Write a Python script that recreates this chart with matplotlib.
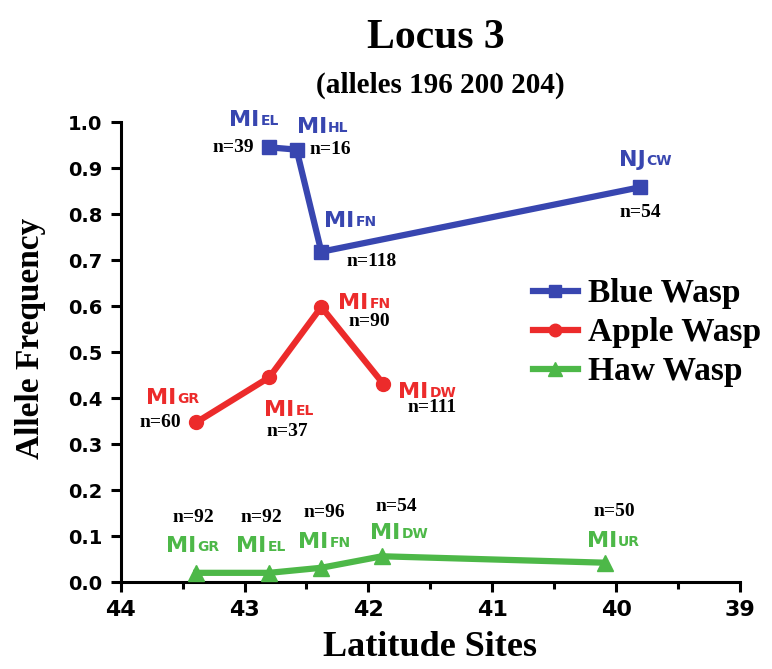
import numpy as np
import matplotlib
matplotlib.use('Agg')
import matplotlib.pyplot as plt

# data
blue_lat = [42.80, 42.58, 42.38, 39.81]
blue_freq = [0.945, 0.940, 0.718, 0.858]
blue_site = [('MI', 'EL'), ('MI', 'HL'), ('MI', 'FN'), ('NJ', 'CW')]
blue_n = [39, 16, 118, 54]

red_lat = [43.39, 42.80, 42.38, 41.88]
red_freq = [0.347, 0.445, 0.598, 0.431]
red_site = [('MI', 'GR'), ('MI', 'EL'), ('MI', 'FN'), ('MI', 'DW')]
red_n = [60, 37, 90, 111]

green_lat = [43.39, 42.80, 42.38, 41.89, 40.09]
green_freq = [0.020, 0.020, 0.031, 0.056, 0.042]
green_site = [('MI', 'GR'), ('MI', 'EL'), ('MI', 'FN'), ('MI', 'DW'), ('MI', 'UR')]
green_n = [92, 92, 96, 54, 50]

xticks = [44, 43, 42, 41, 40, 39]
yticks = [0.0, 0.1, 0.2, 0.3, 0.4, 0.5, 0.6, 0.7, 0.8, 0.9, 1.0]

# label layout (offsets in pixels from the point)
blue_site_off = [(-40, 21), (0, 17), (3, 25), (-21, 21)]
blue_n_off = [(-15, 0, 'right'), (13, 0, 'left'), (25, -10, 'left'), (1, -25, 'center')]
red_site_off = [(-50, 18), (-5, -39), (17, -2), (15, -14)]
red_n_off = [(-15, 0, 'right'), (18, -54, 'center'), (27, -15, 'left'), (24, -24, 'left')]
green_site_off = [(-30, 21), (-33, 21), (-23, 20), (-12, 17), (-18, 16)]
green_n_off = [(-3, 55, 'center'), (-8, 55, 'center'), (3, 55, 'center'), (14, 50, 'center'), (9, 51, 'center')]

c_blue = '#3846B0'
c_red = '#EC2B2B'
c_green = '#4DB848'
serif = 'Liberation Serif'
sans = 'DejaVu Sans'

fig = plt.figure(figsize=(7.72, 6.69), dpi=100)
ax = fig.add_axes([0.1563, 0.1300, 0.8022, 0.6876])

l1, = ax.plot(blue_lat, blue_freq, '-s', color=c_blue, lw=4.5, ms=10, clip_on=False, zorder=3)
l2, = ax.plot(red_lat, red_freq, '-o', color=c_red, lw=4.5, ms=10, clip_on=False, zorder=3)
l3, = ax.plot(green_lat, green_freq, '-^', color=c_green, lw=4.5, ms=11, clip_on=False, zorder=3)


def site_label(x, y, base, sub, color, dx, dy):
    t = ax.annotate(base, (x, y), xytext=(dx, dy), textcoords='offset pixels',
                    ha='left', va='baseline', color=color, fontsize=16,
                    fontweight='bold', family=sans)
    ax.annotate(sub, xy=(1, 0), xycoords=t, xytext=(1, 2), textcoords='offset pixels',
                ha='left', va='bottom', color=color, fontsize=10,
                fontweight='bold', family=sans)


def n_label(x, y, n, dx, dy, ha):
    ax.annotate('n=%d' % n, (x, y), xytext=(dx, dy), textcoords='offset pixels',
                ha=ha, va='center', fontsize=14, fontweight='bold', family=serif)


for lat, fr, (b, s), n, so, no in zip(blue_lat, blue_freq, blue_site, blue_n, blue_site_off, blue_n_off):
    site_label(lat, fr, b, s, c_blue, *so)
    n_label(lat, fr, n, *no)
for lat, fr, (b, s), n, so, no in zip(red_lat, red_freq, red_site, red_n, red_site_off, red_n_off):
    site_label(lat, fr, b, s, c_red, *so)
    n_label(lat, fr, n, *no)
for lat, fr, (b, s), n, so, no in zip(green_lat, green_freq, green_site, green_n, green_site_off, green_n_off):
    site_label(lat, fr, b, s, c_green, *so)
    n_label(lat, fr, n, *no)

ax.set_xlim(44, 39)
ax.set_ylim(0, 1.0)
ax.set_xticks(xticks)
ax.set_xticks(np.arange(39.5, 44, 1.0), minor=True)
ax.set_yticks(yticks)
ax.set_xticklabels([str(v) for v in xticks], fontsize=16, fontweight='bold', family=sans)
ax.set_yticklabels(['%.1f' % v for v in yticks], fontsize=14, fontweight='bold', family=sans)

for side in ['top', 'right']:
    ax.spines[side].set_visible(False)
for side in ['left', 'bottom']:
    ax.spines[side].set_linewidth(2.2)
ax.tick_params(axis='both', which='major', length=7, width=2.2, pad=6)
ax.tick_params(axis='x', which='minor', length=5, width=2.2)

ax.set_ylabel('Allele Frequency', fontsize=24, fontweight='bold', family=serif)
ax.yaxis.set_label_coords(-0.121, 0.53)
ax.set_xlabel('Latitude Sites', fontsize=26, fontweight='bold', family=serif, labelpad=8)

fig.text(0.565, 0.928, 'Locus 3', ha='center', va='baseline', fontsize=30,
         fontweight='bold', family=serif)
fig.text(0.57, 0.861, '(alleles 196 200 204)', ha='center', va='baseline', fontsize=21,
         fontweight='bold', family=serif)

fig.legend([l1, l2, l3], ['Blue Wasp', 'Apple Wasp', 'Haw Wasp'],
           loc='upper left', bbox_to_anchor=(0.690, 0.584), frameon=False,
           prop={'family': serif, 'weight': 'bold', 'size': 24},
           handlelength=1.35, handletextpad=0.3, labelspacing=0.24,
           borderpad=0, borderaxespad=0, markerscale=0.9)

fig.savefig('out.png', dpi=100)
